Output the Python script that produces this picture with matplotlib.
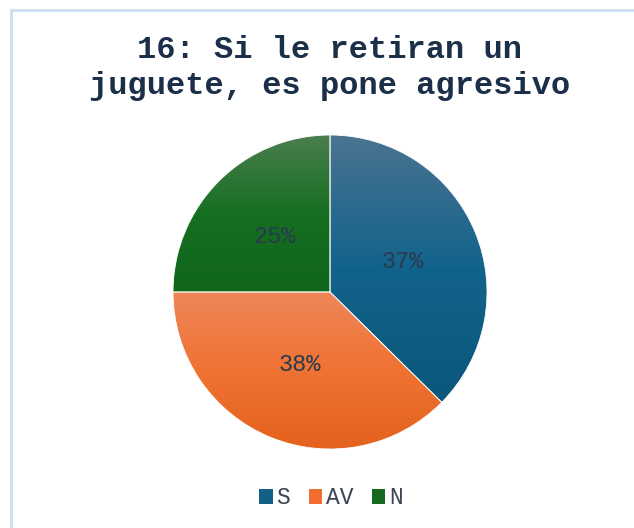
import numpy as np
import matplotlib.pyplot as plt
from matplotlib.colors import LinearSegmentedColormap
from matplotlib.patches import Patch
from matplotlib.lines import Line2D

categories = ['S', 'AV', 'N']
values = [37.4, 37.6, 25.0]
title_lines = ['16: Si le retiran un', 'juguete, es pone agresivo']

# gradient stops (top, middle, bottom) per slice
grad_colors = [
    ['#4b7391', '#12638b', '#0a577b'],
    ['#ee8659', '#f07232', '#e3611c'],
    ['#4b7e4f', '#176f22', '#0f661b'],
]
legend_colors = ['#145f86', '#ef6e30', '#166a20']

mono = ['Liberation Mono', 'DejaVu Sans Mono']

fig = plt.figure(figsize=(6.34, 5.28), dpi=100)

# chart area border (only top and left visible)
fig.add_artist(Line2D([10.5 / 634, 1], [1 - 9.5 / 528] * 2, color='#cfe0f2', lw=2.2))
fig.add_artist(Line2D([10.5 / 634] * 2, [0, 1 - 9.5 / 528], color='#cfe0f2', lw=2.2))

ax = fig.add_axes([0.2729, 0.1496, 0.4953, 0.5947])
wedges, texts, autotexts = ax.pie(values, startangle=90, counterclock=False,
                                  radius=1, autopct='%.0f%%', pctdistance=0.5,
                                  textprops=dict(family=mono, fontsize=17, color='#283a4e'),
                                  wedgeprops=dict(linewidth=0.6, edgecolor='white'))

grad = np.linspace(0, 1, 256).reshape(-1, 1)
for w, cols in zip(wedges, grad_colors):
    w.set_facecolor('none')
    cmap = LinearSegmentedColormap.from_list('g', cols)
    verts = w.get_path().vertices
    x0, x1 = verts[:, 0].min(), verts[:, 0].max()
    y0, y1 = verts[:, 1].min(), verts[:, 1].max()
    im = ax.imshow(grad, cmap=cmap, extent=[x0, x1, y0, y1], origin='upper',
                   aspect='auto', zorder=0.5)
    im.set_clip_path(w)
for t in autotexts:
    t.set_zorder(5)

ax.set_xlim(-1, 1)
ax.set_ylim(-1, 1)
ax.set_aspect('equal')
ax.axis('off')

fig.text(0.5205, 1 - 50 / 528, title_lines[0], ha='center', va='center',
         family=mono, fontsize=23, fontweight='bold', color='#1b2f48')
fig.text(0.5205, 1 - 86 / 528, title_lines[1], ha='center', va='center',
         family=mono, fontsize=23, fontweight='bold', color='#1b2f48')

handles = [Patch(facecolor=c, edgecolor='none', label=l) for c, l in zip(legend_colors, categories)]
fig.legend(handles=handles, loc='center', bbox_to_anchor=(0.522, 1 - 498 / 528), ncol=3,
           frameon=False, handlelength=0.6, handleheight=0.6, handletextpad=0.15,
           columnspacing=0.8, prop=dict(family=mono, size=16.5), labelcolor='#3c4454')

fig.savefig('out.png', dpi=100)
